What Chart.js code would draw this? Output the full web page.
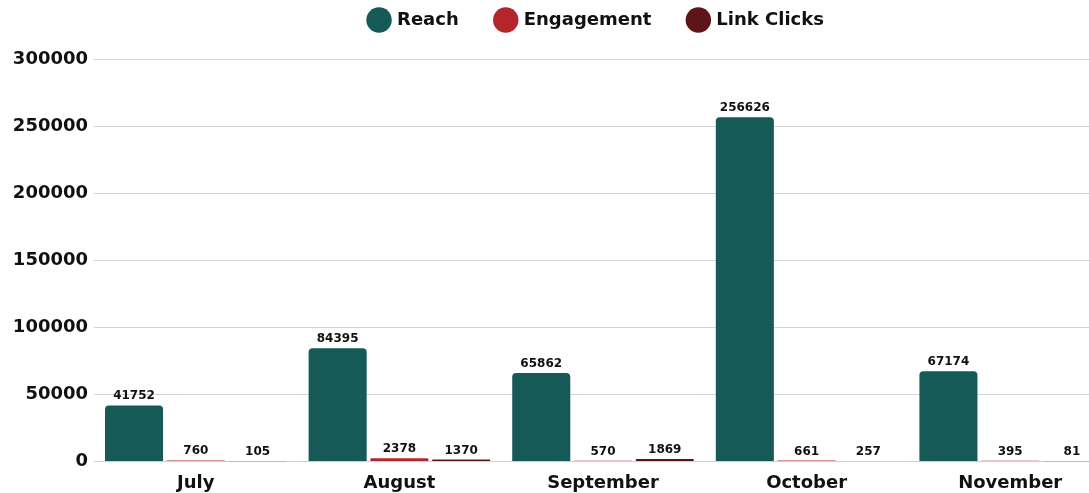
<!DOCTYPE html>
<html>
<head>
<meta charset="utf-8">
<script src="https://cdn.jsdelivr.net/npm/chart.js@4.4.1/dist/chart.umd.min.js"></script>
<style>
html,body{margin:0;padding:0;overflow:hidden;background:#fff;}
#wrap{width:1194px;height:534px;position:relative;margin-top:-27px;}
</style>
</head>
<body>
<div id="wrap"><canvas id="c"></canvas></div>
<script>
const categories = ["July", "August", "September", "October", "November"];
const reach = [41752, 84395, 65862, 256626, 67174];
const engagement = [760, 2378, 570, 661, 395];
const linkClicks = [105, 1370, 1869, 257, 81];
const yTicks = [0, 50000, 100000, 150000, 200000, 250000, 300000];

const FONT = "'DejaVu Sans', sans-serif";

const valueLabels = {
  id: 'valueLabels',
  afterDatasetsDraw(chart) {
    const ctx = chart.ctx;
    ctx.save();
    ctx.font = "bold 12px " + FONT;
    ctx.fillStyle = "#111";
    ctx.textAlign = "center";
    ctx.textBaseline = "alphabetic";
    chart.data.datasets.forEach((ds, i) => {
      const meta = chart.getDatasetMeta(i);
      meta.data.forEach((el, j) => {
        ctx.fillText(String(ds.data[j]), el.x, el.y - 6);
      });
    });
    ctx.restore();
  }
};

const legendHeight = {
  id: 'legendHeight',
  beforeInit(chart) {
    const orig = chart.legend.fit;
    chart.legend.fit = function () {
      orig.bind(chart.legend)();
      this.height = 86;
    };
  }
};

new Chart(document.getElementById('c'), {
  type: 'bar',
  data: {
    labels: categories,
    datasets: [
      { label: 'Reach', data: reach, backgroundColor: '#155a56', borderRadius: {topLeft:4, topRight:4}, borderSkipped: 'bottom' },
      { label: 'Engagement', data: engagement, backgroundColor: '#b5262c', borderRadius: {topLeft:4, topRight:4}, borderSkipped: 'bottom' },
      { label: 'Link Clicks', data: linkClicks, backgroundColor: '#5e1517', borderRadius: {topLeft:4, topRight:4}, borderSkipped: 'bottom' }
    ]
  },
  options: {
    responsive: true,
    maintainAspectRatio: false,
    animation: false,
    layout: { padding: { left: 0, right: 0, top: 0, bottom: 2 } },
    datasets: { bar: { categoryPercentage: 0.91, barPercentage: 0.94 } },
    plugins: {
      legend: {
        position: 'top',
        labels: {
          usePointStyle: true,
          pointStyle: 'circle',
          boxWidth: 20,
          boxHeight: 20,
          padding: 38,
          color: '#111',
          font: { family: FONT, size: 18, weight: 'bold' }
        }
      },
      tooltip: { enabled: false }
    },
    scales: {
      x: {
        grid: { display: false, drawTicks: false },
        border: { display: true, color: '#cfcfcf', width: 1 },
        ticks: { color: '#111', padding: 11, font: { family: FONT, size: 18, weight: 'bold' } }
      },
      y: {
        min: 0, max: 300000,
        afterFit(scale) { scale.width = 94; },
        afterBuildTicks(scale) { scale.ticks = yTicks.map(v => ({ value: v })); },
        grid: { color: '#d4d4d4', lineWidth: 1, drawTicks: false },
        border: { display: false },
        ticks: { color: '#111', padding: 6, font: { family: FONT, size: 18, weight: 'bold' }, callback: (v) => String(v) }
      },
      yRight: {
        position: 'right',
        min: 0, max: 300000,
        afterFit(scale) { scale.width = 82; },
        grid: { display: false, drawTicks: false },
        border: { display: false },
        ticks: { display: false }
      }
    }
  },
  plugins: [valueLabels, legendHeight]
});
</script>
</body>
</html>
